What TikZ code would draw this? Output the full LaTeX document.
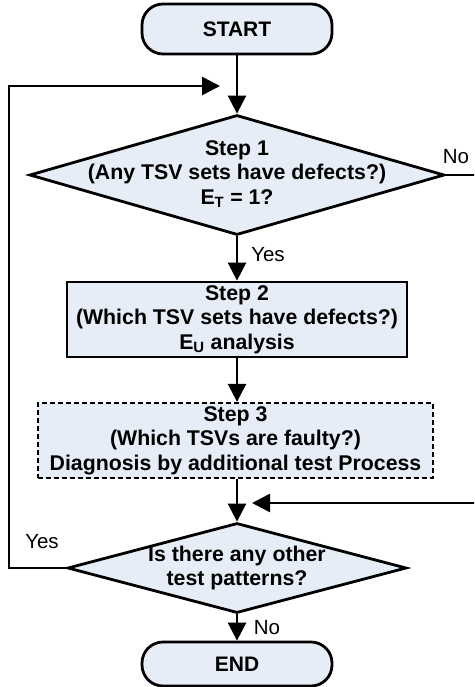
\documentclass[tikz,border=0pt]{standalone}
\usepackage{fontspec}
\setmainfont{Liberation Sans}
\usetikzlibrary{shapes.geometric,arrows.meta}
\definecolor{boxfill}{RGB}{231,237,247}
\begin{document}
\begin{tikzpicture}[x=1pt,y=-1pt,
  conn/.style={line width=2.6pt},
  arr/.style={conn,-{Triangle[length=18pt,width=18pt]}},
  box/.style={draw,line width=2.8pt,fill=boxfill},
  term/.style={box,rectangle,rounded corners=21pt,minimum width=190pt,inner sep=0pt,font=\bfseries\fontsize{21}{24}\selectfont},
  dec/.style={box,diamond,inner sep=0pt},
  txt/.style={align=center,font=\bfseries\fontsize{21.3}{24.5}\selectfont,inner sep=0pt},
  lbl/.style={font=\fontsize{20.5}{24}\selectfont,inner sep=0pt}]
\useasboundingbox (0,0) rectangle (474,687);
\clip (0,0) rectangle (474,687);
% shapes
\node[term,minimum height=50pt] (start) at (237,29) {START};
\node[dec,minimum width=415pt,minimum height=120pt] (d1) at (237,175) {};
\node[txt] (d1t) at (237,174) {Step 1\\(Any TSV sets have defects?)\\E\textsubscript{T} = 1?};
\node[box,txt,minimum width=340pt,minimum height=75pt] (s2) at (237,319.5) {Step 2\\(Which TSV sets have defects?)\\E\textsubscript{U} analysis};
\node[box,txt,line width=2.3pt,dash pattern=on 5pt off 3pt,minimum width=395pt,minimum height=75pt] (s3) at (235.5,440.5) {Step 3\\(Which TSVs are faulty?)\\Diagnosis by additional test Process};
\node[dec,minimum width=339pt,minimum height=90pt] (d2) at (237,568) {};
\node[txt] (d2t) at (237,568) {Is there any other\\test patterns?};
\node[term,minimum height=44pt] (end) at (237,664) {END};
% connectors
\coordinate (j) at (252,503);
\coordinate (lt) at (220,86);
\draw[arr] (start) -- (d1);
\draw[arr] (d1) -- (s2);
\draw[arr] (s2.south) -- (s2.south |- s3.north);
\draw[arr] (s3.south -| d2.north) -- (d2.north);
\draw[arr] (d1.east) -- (482,175) |- (j);
\draw[arr] (d2.west) -- (9,568) |- (lt);
\draw[arr] (d2) -- (end);
% labels
\node[lbl] (no1) at (456,157) {No};
\node[lbl] (yes1) at (268,255) {Yes};
\node[lbl] (yes2) at (42,542) {Yes};
\node[lbl] (no2) at (267,628) {No};
\end{tikzpicture}
\end{document}
